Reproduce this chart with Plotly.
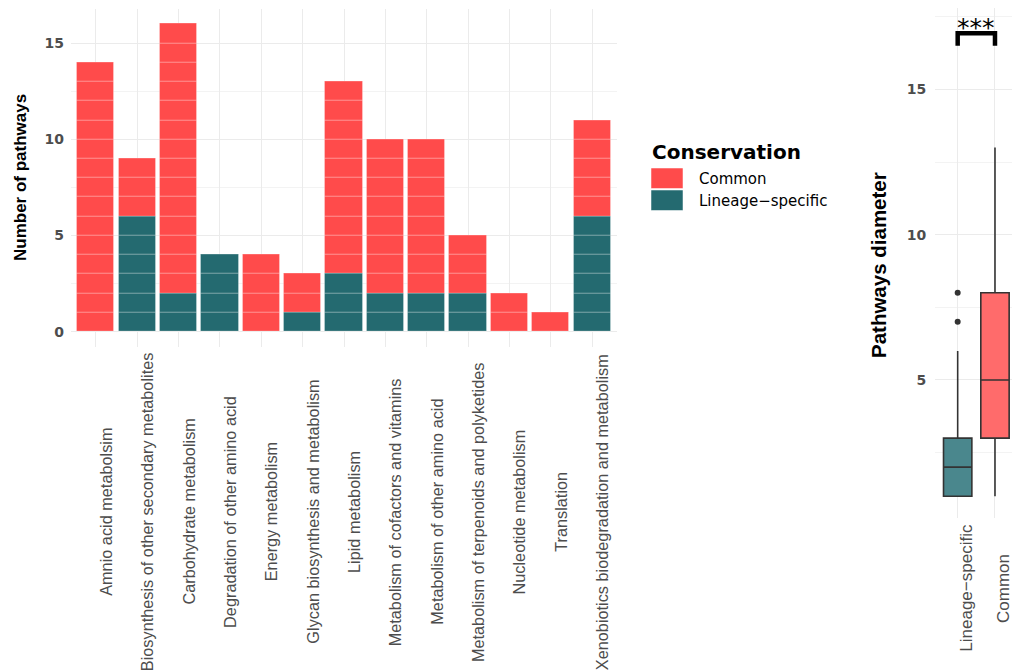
import plotly.graph_objects as go

# ---------------- data ----------------
categories = [
    "Amnio acid metabolsim",
    "Biosynthesis of other secondary metabolites",
    "Carbohydrate metabolism",
    "Degradation of other amino acid",
    "Energy metabolism",
    "Glycan biosynthesis and metabolism",
    "Lipid metabolism",
    "Metabolism of cofactors and vitamins",
    "Metabolism of other amino acid",
    "Metabolism of terpenoids and polyketides",
    "Nucleotide metabolism",
    "Translation",
    "Xenobiotics biodegradation and metabolism",
]
lineage_specific = [0, 6, 2, 4, 0, 1, 3, 2, 2, 2, 0, 0, 6]
common = [14, 3, 14, 0, 4, 2, 10, 8, 8, 3, 2, 1, 5]

legend_title = "Conservation"
legend_labels = ["Common", "Lineage\u2212specific"]

box_groups = ["Lineage-specific", "Common"]
box_labels = ["Lineage\u2212specific", "Common"]
box_q1 = [1, 3]
box_median = [2, 5]
box_q3 = [3, 8]
box_lower = [1, 1]
box_upper = [6, 13]
outlier_group = ["Lineage-specific", "Lineage-specific"]
outlier_values = [7, 8]
signif_label = "***"
signif_top = 16.93
signif_tip = 16.5

y_title_left = "Number of pathways"
y_title_right = "Pathways diameter"

# ---------------- styles ----------------
RED = "#FF4B4B"
TEAL = "#246A70"
BOX_RED = "#FF6B6B"
BOX_TEAL = "#4A878D"
GRID = "#EBEBEB"
MINOR = "#F3F3F3"
TICK = "#4D4D4D"
NARROW = "Liberation Sans, Arial, sans-serif"
WIDE = "DejaVu Sans, Verdana, sans-serif"
W, H = 1012, 670


def px_x(p):
    return p / W


def px_y(p):
    return 1 - p / H


def unit_blocks(counts, offsets):
    xs, bases = [], []
    for cat, n, off in zip(categories, counts, offsets):
        for k in range(n):
            xs.append(cat)
            bases.append(off + k)
    return xs, bases


fig = go.Figure()

lx, lb = unit_blocks(lineage_specific, [0] * len(categories))
cx, cb = unit_blocks(common, lineage_specific)
for xs, bases, col in [(lx, lb, TEAL), (cx, cb, RED)]:
    fig.add_trace(go.Bar(
        x=xs, y=[1] * len(xs), base=bases, width=0.9,
        marker=dict(color=col, line=dict(color="rgba(255,255,255,0.28)", width=1)),
        xaxis="x", yaxis="y", showlegend=False, hoverinfo="skip",
    ))

for i, (g, fc) in enumerate(zip(box_groups, [BOX_TEAL, BOX_RED])):
    fig.add_trace(go.Box(
        x=[g], q1=[box_q1[i]], median=[box_median[i]], q3=[box_q3[i]],
        lowerfence=[box_lower[i]], upperfence=[box_upper[i]],
        fillcolor=fc, line=dict(color="#333333", width=1.6), width=0.76,
        whiskerwidth=0, boxpoints=False, xaxis="x2", yaxis="y2", showlegend=False,
    ))

fig.add_trace(go.Scatter(
    x=outlier_group, y=outlier_values, mode="markers",
    marker=dict(color="#333333", size=6), xaxis="x2", yaxis="y2", showlegend=False,
))

fig.add_trace(go.Scatter(
    x=[box_groups[0], box_groups[0], box_groups[1], box_groups[1]],
    y=[signif_tip, signif_top, signif_top, signif_tip],
    mode="lines", line=dict(color="black", width=4.5),
    xaxis="x2", yaxis="y2", showlegend=False,
))

annotations = []
# x labels left
for i, c in enumerate(categories):
    annotations.append(dict(
        x=i, y=px_y(512), xref="x", yref="paper", text=c, showarrow=False,
        textangle=-90, xanchor="center", yanchor="middle", xshift=10,
        font=dict(family=NARROW, size=16.3, color=TICK),
    ))
# x labels right
for i, c in enumerate(box_labels):
    annotations.append(dict(
        x=i, y=px_y(588), xref="x2", yref="paper", text=c, showarrow=False,
        textangle=-90, xanchor="center", yanchor="middle", xshift=8,
        font=dict(family=NARROW, size=17, color=TICK),
    ))
# y titles
annotations.append(dict(
    x=px_x(21), y=px_y(178), xref="paper", yref="paper", text=y_title_left,
    showarrow=False, textangle=-90, xanchor="center", yanchor="middle",
    font=dict(family=NARROW, size=17, color="black", weight="bold"),
))
annotations.append(dict(
    x=px_x(879), y=px_y(265), xref="paper", yref="paper", text=y_title_right,
    showarrow=False, textangle=-90, xanchor="center", yanchor="middle",
    font=dict(family=NARROW, size=20.5, color="black", weight="bold"),
))
# significance
annotations.append(dict(
    x=0.5, y=px_y(27), xref="x2", yref="paper", text=signif_label,
    showarrow=False, xanchor="center", yanchor="middle",
    font=dict(family=WIDE, size=25, color="black"),
))
# legend
annotations.append(dict(
    x=px_x(650), y=px_y(152), xref="paper", yref="paper", text=legend_title,
    showarrow=False, xanchor="left", yanchor="middle",
    font=dict(family=WIDE, size=20, color="black", weight="bold"),
))
shapes = []
for j, (lab, col) in enumerate(zip(legend_labels, [RED, TEAL])):
    top = 168 + j * 22
    shapes.append(dict(
        type="rect", xref="paper", yref="paper",
        x0=px_x(651), x1=px_x(683), y0=px_y(top + 20.5), y1=px_y(top),
        fillcolor=col, line=dict(color="rgba(255,255,255,0.5)", width=1),
    ))
    annotations.append(dict(
        x=px_x(697), y=px_y(top + 10.5), xref="paper", yref="paper", text=lab,
        showarrow=False, xanchor="left", yanchor="middle",
        font=dict(family=WIDE, size=15, color="black"),
    ))

tickfont = dict(family=WIDE, size=14, color=TICK, weight="bold")

fig.update_layout(
    width=W, height=H, margin=dict(l=0, r=0, t=0, b=0),
    paper_bgcolor="white", plot_bgcolor="white",
    barmode="overlay", boxmode="overlay", bargap=0,
    showlegend=False,
    xaxis=dict(
        domain=[px_x(71), px_x(617)], type="category",
        categoryorder="array", categoryarray=categories,
        range=[-0.6, len(categories) - 0.4],
        showgrid=True, gridcolor=GRID, gridwidth=1.1,
        showticklabels=False, ticks="", zeroline=False, showline=False,
    ),
    yaxis=dict(
        domain=[px_y(347), px_y(8.6)], range=[-0.8, 16.8],
        tickmode="linear", tick0=0, dtick=5,
        showgrid=True, gridcolor=GRID, gridwidth=1.1,
        minor=dict(tick0=0, dtick=2.5, showgrid=True, gridcolor=MINOR, gridwidth=0.8),
        zeroline=False, showline=False, ticks="", tickfont=tickfont,
        ticklabelstandoff=6,
    ),
    xaxis2=dict(
        domain=[px_x(935.3), 1.0], type="category",
        categoryorder="array", categoryarray=box_groups,
        range=[-0.6, 1.456], anchor="y2",
        showgrid=True, gridcolor=GRID, gridwidth=1.1,
        showticklabels=False, ticks="", zeroline=False, showline=False,
    ),
    yaxis2=dict(
        domain=[px_y(518), px_y(8)], range=[0.25, 17.8], anchor="x2",
        tickmode="linear", tick0=0, dtick=5,
        showgrid=True, gridcolor=GRID, gridwidth=1.1,
        minor=dict(tick0=0, dtick=2.5, showgrid=True, gridcolor=MINOR, gridwidth=0.8),
        zeroline=False, showline=False, ticks="", tickfont=tickfont,
        ticklabelstandoff=8,
    ),
    annotations=annotations,
    shapes=shapes,
)

fig.write_html(
    "out.html",
    config={"displayModeBar": False},
    post_script="document.body.style.margin='0px';",
)
